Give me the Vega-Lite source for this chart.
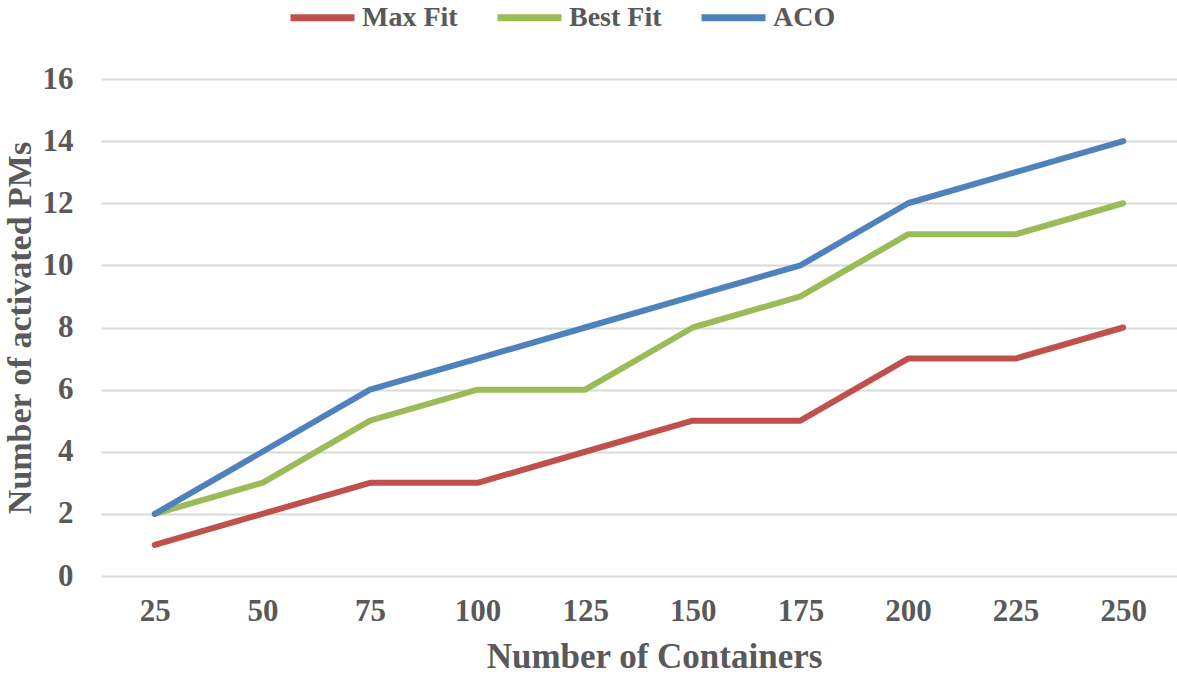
{
  "$schema": "https://vega.github.io/schema/vega-lite/v6.json",
  "width": 1076,
  "height": 497,
  "autosize": "none",
  "padding": {"left": 101, "top": 79, "right": 0, "bottom": 99},
  "background": "white",
  "config": {
    "view": {"stroke": null}
  },
  "data": {
    "values": [
      {"containers": "25", "series": "Max Fit", "pms": 1},
      {"containers": "50", "series": "Max Fit", "pms": 2},
      {"containers": "75", "series": "Max Fit", "pms": 3},
      {"containers": "100", "series": "Max Fit", "pms": 3},
      {"containers": "125", "series": "Max Fit", "pms": 4},
      {"containers": "150", "series": "Max Fit", "pms": 5},
      {"containers": "175", "series": "Max Fit", "pms": 5},
      {"containers": "200", "series": "Max Fit", "pms": 7},
      {"containers": "225", "series": "Max Fit", "pms": 7},
      {"containers": "250", "series": "Max Fit", "pms": 8},
      {"containers": "25", "series": "Best Fit", "pms": 2},
      {"containers": "50", "series": "Best Fit", "pms": 3},
      {"containers": "75", "series": "Best Fit", "pms": 5},
      {"containers": "100", "series": "Best Fit", "pms": 6},
      {"containers": "125", "series": "Best Fit", "pms": 6},
      {"containers": "150", "series": "Best Fit", "pms": 8},
      {"containers": "175", "series": "Best Fit", "pms": 9},
      {"containers": "200", "series": "Best Fit", "pms": 11},
      {"containers": "225", "series": "Best Fit", "pms": 11},
      {"containers": "250", "series": "Best Fit", "pms": 12},
      {"containers": "25", "series": "ACO", "pms": 2},
      {"containers": "50", "series": "ACO", "pms": 4},
      {"containers": "75", "series": "ACO", "pms": 6},
      {"containers": "100", "series": "ACO", "pms": 7},
      {"containers": "125", "series": "ACO", "pms": 8},
      {"containers": "150", "series": "ACO", "pms": 9},
      {"containers": "175", "series": "ACO", "pms": 10},
      {"containers": "200", "series": "ACO", "pms": 12},
      {"containers": "225", "series": "ACO", "pms": 13},
      {"containers": "250", "series": "ACO", "pms": 14}
    ]
  },
  "mark": {"type": "line", "strokeWidth": 6, "strokeCap": "round", "strokeJoin": "round"},
  "encoding": {
    "x": {
      "field": "containers",
      "type": "ordinal",
      "sort": null,
      "scale": {"type": "point", "padding": 0.5},
      "axis": {
        "title": "Number of Containers",
        "titleFont": "Liberation Serif",
        "titleFontSize": 35,
        "titleFontWeight": "bold",
        "titleColor": "#595959",
        "titlePadding": 13,
        "titleX": 553,
        "labelFont": "Liberation Serif",
        "labelFontSize": 31,
        "labelFontWeight": "bold",
        "labelColor": "#595959",
        "labelAngle": 0,
        "labelPadding": 20,
        "ticks": false,
        "domain": false,
        "grid": false
      }
    },
    "y": {
      "field": "pms",
      "type": "quantitative",
      "scale": {"domain": [0, 16], "nice": false},
      "axis": {
        "title": "Number of activated PMs",
        "titleFont": "Liberation Serif",
        "titleFontSize": 34,
        "titleFontWeight": "bold",
        "titleColor": "#595959",
        "titlePadding": 5,
        "labelFont": "Liberation Serif",
        "labelFontSize": 31,
        "labelFontWeight": "bold",
        "labelColor": "#595959",
        "labelPadding": 28,
        "values": [0, 2, 4, 6, 8, 10, 12, 14, 16],
        "ticks": false,
        "domain": false,
        "grid": true,
        "gridColor": "#D9D9D9",
        "gridWidth": 2
      }
    },
    "color": {
      "field": "series",
      "type": "nominal",
      "sort": ["Max Fit", "Best Fit", "ACO"],
      "scale": {"domain": ["Max Fit", "Best Fit", "ACO"], "range": ["#C0504D", "#9BBB59", "#4F81BD"]},
      "legend": {
        "title": null,
        "orient": "none",
        "direction": "horizontal",
        "legendX": 186,
        "legendY": -97,
        "symbolType": "stroke",
        "symbolSize": 4096,
        "symbolStrokeWidth": 7,
        "labelFont": "Liberation Serif",
        "labelFontSize": 28,
        "labelFontWeight": "bold",
        "labelColor": "#595959",
        "labelOffset": 4,
        "columnPadding": 25,
        "labelLimit": 300
      }
    }
  }
}
